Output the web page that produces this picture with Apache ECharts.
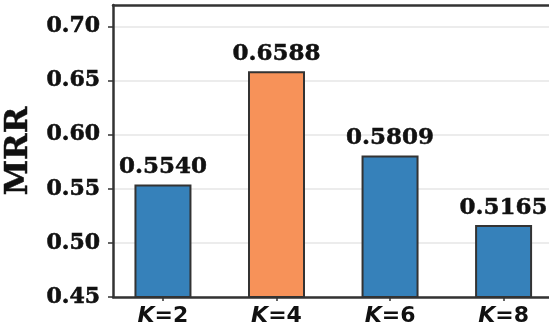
<!DOCTYPE html>
<html>
<head>
<meta charset="utf-8">
<script src="https://cdn.jsdelivr.net/npm/echarts@6/dist/echarts.min.js"></script>
<style>html,body{margin:0;padding:0;background:#fff}#c{width:549px;height:329px}</style>
</head>
<body>
<div id="c"></div>
<script>
const categories = ['K=2', 'K=4', 'K=6', 'K=8'];
const mrrValues = [0.5540, 0.6588, 0.5809, 0.5165];
const highlightIndex = 1;
const yTicks = [0.45, 0.50, 0.55, 0.60, 0.65, 0.70];
const yName = 'MRR';

const BLUE = '#3681ba', ORANGE = '#f79259', EDGE = '#333333';
const SERIF = '"DejaVu Serif", serif';
const SANS = '"DejaVu Sans", sans-serif';

const chart = echarts.init(document.getElementById('c'), null, {renderer: 'canvas'});
const xPos = categories.map((c, i) => i);
chart.setOption({
  animation: false,
  grid: {left: 113, right: 0, top: 5, bottom: 32, containLabel: false, outerBoundsMode: 'none'},
  xAxis: [{
    type: 'value', min: -0.44, max: 3.40,
    splitLine: {show: false},
    axisLine: {show: true, onZero: false, lineStyle: {color: EDGE, width: 2.5}},
    axisTick: {show: true, customValues: xPos, length: 4, lineStyle: {color: EDGE, width: 1.5}},
    axisLabel: {
      show: true, customValues: xPos, margin: 8,
      formatter: v => {
        const s = categories[Math.round(v)] || '';
        return '{k|' + s.charAt(0) + '}{n|' + s.slice(1) + '}';
      },
      rich: {
        k: {fontFamily: SANS, fontStyle: 'italic', fontWeight: 'bold', fontSize: 22, color: '#111'},
        n: {fontFamily: SANS, fontWeight: 'bold', fontSize: 22, color: '#111'}
      }
    }
  }, {
    type: 'value', position: 'top', min: -0.44, max: 3.40,
    splitLine: {show: false},
    axisLine: {show: true, onZero: false, lineStyle: {color: EDGE, width: 2.5}},
    axisTick: {show: false}, axisLabel: {show: false}
  }],
  yAxis: {
    type: 'value', min: 0.45, max: 0.72, interval: 0.05,
    name: yName, nameLocation: 'middle', nameRotate: 90, nameGap: 70,
    nameTextStyle: {fontFamily: SERIF, fontWeight: 'bold', fontSize: 32, color: '#111',
      textBorderColor: '#111', textBorderWidth: 0.5},
    axisLine: {show: true, onZero: false, lineStyle: {color: EDGE, width: 2.5}},
    axisTick: {show: true, customValues: yTicks, length: 5, lineStyle: {color: EDGE, width: 1.5}},
    axisLabel: {
      customValues: yTicks, margin: 13,
      formatter: v => v.toFixed(2),
      fontFamily: SERIF, fontWeight: 'bold', fontSize: 22, color: '#111',
      textBorderColor: '#111', textBorderWidth: 0.6
    },
    splitLine: {show: true, lineStyle: {color: '#e6e6e6', width: 1.5}}
  },
  series: [{
    type: 'bar',
    xAxisIndex: 0,
    barWidth: 57,
    data: mrrValues.map((v, i) => ({
      value: [i, v],
      itemStyle: {color: i === highlightIndex ? ORANGE : BLUE, borderColor: EDGE, borderWidth: 2}
    })),
    label: {
      show: true, position: 'top', distance: 6,
      formatter: p => p.value[1].toFixed(4),
      fontFamily: SERIF, fontWeight: 'bold', fontSize: 23, color: '#111',
      textBorderColor: '#111', textBorderWidth: 0.5
    }
  }]
});
</script>
</body>
</html>
